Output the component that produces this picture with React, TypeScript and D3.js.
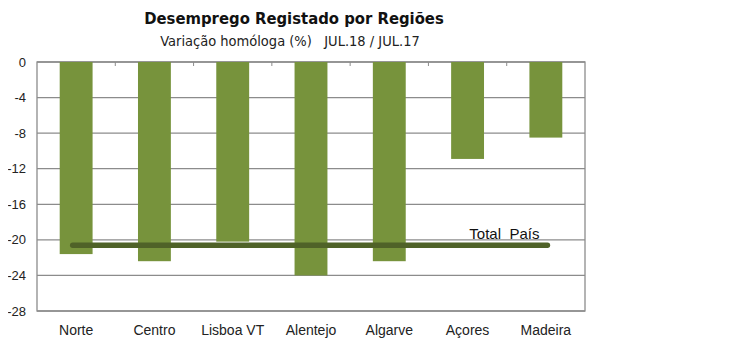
import { useEffect, useRef } from "react";
import * as d3 from "d3";

const regions = ["Norte", "Centro", "Lisboa VT", "Alentejo", "Algarve", "Açores", "Madeira"];
const variation = [-21.6, -22.4, -20.2, -24.0, -22.4, -10.9, -8.5];
const yTicks = [0, -4, -8, -12, -16, -20, -24, -28];
const totalPais = -20.6;

const W = 750;
const H = 351;
const margin = { top: 62, right: 165, bottom: 40, left: 37 };
const LABEL_FONT = "'Liberation Sans', Arial, sans-serif";
const TITLE_FONT = "'DejaVu Sans Condensed', 'Liberation Sans Narrow', sans-serif";

export default function App() {
  const svgRef = useRef<SVGSVGElement>(null);

  useEffect(() => {
    if (!svgRef.current) return;
    const svg = d3.select(svgRef.current);
    svg.selectAll("*").remove();

    const innerW = W - margin.left - margin.right;
    const innerH = H - margin.top - margin.bottom;

    const x = d3.scaleBand().domain(regions).range([0, innerW]).paddingInner(0.58).paddingOuter(0.29);
    const xCat = d3.scaleBand().domain(regions).range([0, innerW]);
    const y = d3.scaleLinear().domain([0, -28]).range([0, innerH]);

    // title
    svg.append("text")
      .attr("x", 294).attr("y", 24)
      .attr("text-anchor", "middle")
      .attr("font-family", TITLE_FONT)
      .attr("font-weight", "bold").attr("font-size", 16.5).attr("fill", "#111")
      .text("Desemprego Registado por Regiões");
    svg.append("text")
      .attr("x", 290).attr("y", 46)
      .attr("text-anchor", "middle")
      .attr("font-family", TITLE_FONT)
      .attr("font-size", 14.5).attr("fill", "#222")
      .style("white-space", "pre")
      .text("Variação homóloga (%)   JUL.18 / JUL.17");

    const g = svg.append("g").attr("transform", `translate(${margin.left},${margin.top})`);

    // gridlines
    g.append("g").selectAll("line").data(yTicks).join("line")
      .attr("x1", 0).attr("x2", innerW)
      .attr("y1", (d) => y(d)).attr("y2", (d) => y(d))
      .attr("stroke", "#8c8c8c").attr("stroke-width", 1.3);

    // plot border
    g.append("rect").attr("x", 0).attr("y", 0).attr("width", innerW).attr("height", innerH)
      .attr("fill", "none").attr("stroke", "#8c8c8c").attr("stroke-width", 1.3);

    // category ticks on the zero axis
    g.append("g").selectAll("line").data(regions.slice(1)).join("line")
      .attr("x1", (d) => xCat(d)!).attr("x2", (d) => xCat(d)!)
      .attr("y1", 0).attr("y2", 4)
      .attr("stroke", "#8c8c8c").attr("stroke-width", 1);

    // y labels
    g.append("g").selectAll("text").data(yTicks).join("text")
      .attr("x", -11).attr("y", (d) => y(d)).attr("dy", "0.35em")
      .attr("text-anchor", "end")
      .attr("font-family", LABEL_FONT).attr("font-size", 13).attr("fill", "#222")
      .text((d) => String(d));

    // bars
    g.append("g").selectAll("rect").data(regions).join("rect")
      .attr("x", (d) => x(d)!)
      .attr("y", 0)
      .attr("width", x.bandwidth())
      .attr("height", (_d, i) => y(variation[i]))
      .attr("fill", "#77933C");

    // x labels
    g.append("g").selectAll("text").data(regions).join("text")
      .attr("x", (d) => x(d)! + x.bandwidth() / 2)
      .attr("y", innerH + 24)
      .attr("text-anchor", "middle")
      .attr("font-family", LABEL_FONT).attr("font-size", 14).attr("fill", "#222")
      .text((d) => d);

    // total line
    const x0 = x(regions[0])! + 13;
    const x1 = x(regions[regions.length - 1])! + 18;
    g.append("line")
      .attr("x1", x0).attr("x2", x1)
      .attr("y1", y(totalPais)).attr("y2", y(totalPais))
      .attr("stroke", "#4F6228").attr("stroke-width", 5.5).attr("stroke-linecap", "round");

    g.append("text")
      .attr("x", x1 - 8).attr("y", y(totalPais) - 6)
      .attr("text-anchor", "end")
      .attr("font-family", LABEL_FONT).attr("font-size", 15).attr("fill", "#111")
      .style("white-space", "pre")
      .text("Total  País");
  }, []);

  return (
    <div style={{ margin: -8 }}>
      <svg ref={svgRef} width={W} height={H} style={{ display: "block", background: "#fff" }} />
    </div>
  );
}
